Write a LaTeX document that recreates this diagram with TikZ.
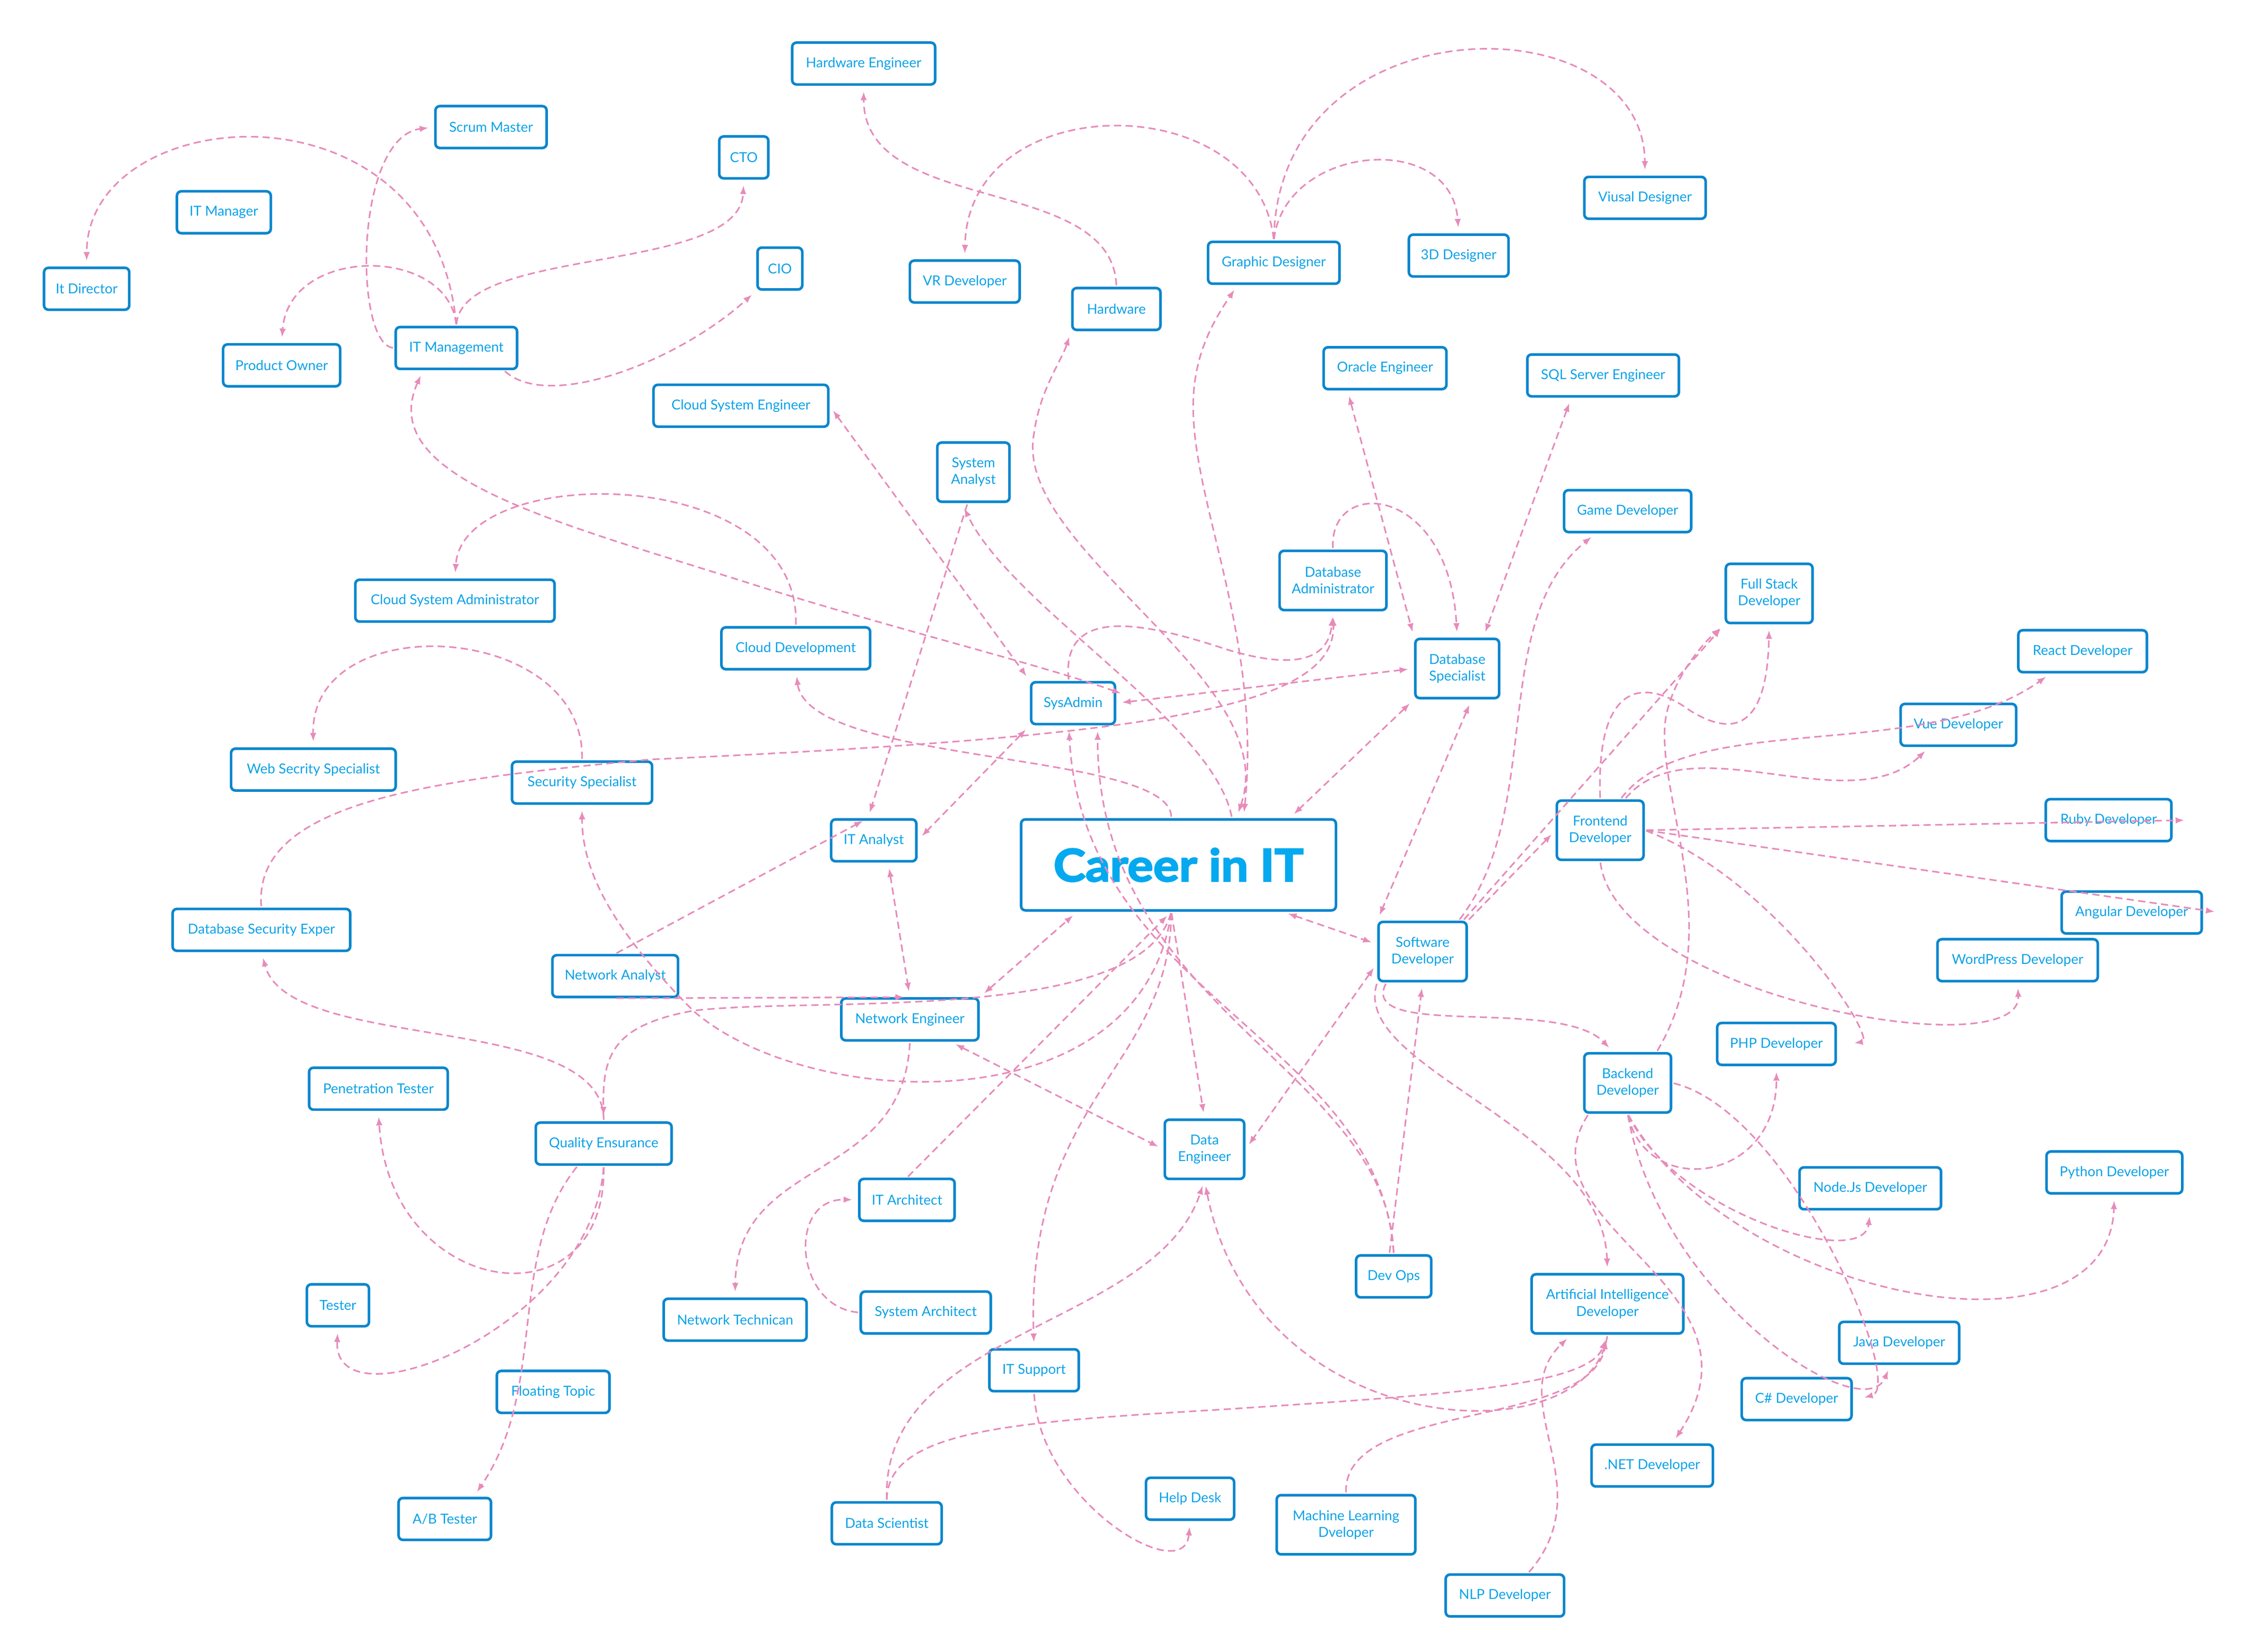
\documentclass[tikz,border=0pt]{standalone}
\usepackage{fontspec}
\setmainfont{Lato}
\newfontfamily\heavy{Lato}[FakeBold=3, FakeStretch=1.08]
\usetikzlibrary{arrows.meta}
\definecolor{boxblue}{HTML}{0A86CE}
\definecolor{txtblue}{HTML}{08A2E8}
\definecolor{careerblue}{HTML}{05A9EF}
\definecolor{linkpink}{HTML}{E78BBA}
\begin{document}
\begin{tikzpicture}[x=1pt, y=-1pt,
        box/.style={draw=boxblue, line width=1.8pt, rounded corners=3pt, text=txtblue,
            font=\fontsize{9.5}{11.5}\selectfont, minimum height=29pt, inner xsep=6pt, align=center},
        tall/.style={box, minimum height=41pt},
        link/.style={draw=linkpink, line width=1.1pt, dash pattern=on 5pt off 3pt,
            -{Latex[length=6pt,width=4.5pt]}, shorten >=4pt, shorten <=1pt},
        both/.style={link, {Latex[length=6pt,width=4.5pt]}-{Latex[length=6pt,width=4.5pt]}, shorten <=4pt}]
        \useasboundingbox[fill=white] (0,0) rectangle (1560,1144);
        \node [box, minimum width=99pt] (hweng) at (598,44) {Hardware Engineer};
        \node [box, minimum width=77pt] (scrum) at (340,88) {Scrum Master};
        \node [box, minimum width=34pt] (cto) at (515,109) {CTO};
        \node [box, minimum width=65pt] (itmgr) at (155,147) {IT Manager};
        \node [box, minimum width=59pt] (itdir) at (60,200) {It Director};
        \node [box, minimum width=31pt] (cio) at (540,186) {CIO};
        \node [box, minimum width=81pt] (powner) at (195,253) {Product Owner};
        \node [box, minimum width=84pt] (itm) at (316,241) {IT Management};
        \node [box, minimum width=76pt] (vr) at (668,195) {VR Developer};
        \node [box, minimum width=61pt] (hw) at (773,214) {Hardware};
        \node [box, minimum width=91pt] (gd) at (882,182) {Graphic Designer};
        \node [box, minimum width=69pt] (d3) at (1010,177) {3D Designer};
        \node [box, minimum width=84pt] (vis) at (1139,137) {Viusal Designer};
        \node [box, minimum width=85pt] (oracle) at (959,255) {Oracle Engineer};
        \node [box, minimum width=105pt] (sql) at (1110,260) {SQL Server Engineer};
        \node [box, minimum width=121pt] (cse) at (513,281) {Cloud System Engineer};
        \node [tall, minimum width=50pt] (sa) at (674,327) {System\\Analyst};
        \node [box, minimum width=88pt] (game) at (1127,354) {Game Developer};
        \node [box, minimum width=138pt] (csa) at (315,416) {Cloud System Administrator};
        \node [tall, minimum width=74pt] (dba) at (923,402) {Database\\Administrator};
        \node [tall, minimum width=60pt] (fs) at (1225,411) {Full Stack\\Developer};
        \node [box, minimum width=103pt] (cdev) at (551,449) {Cloud Development};
        \node [tall, minimum width=58pt] (dbs) at (1009,463) {Database\\Specialist};
        \node [box, minimum width=89pt] (react) at (1442,451) {React Developer};
        \node [box, minimum width=58pt] (sys) at (743,487) {SysAdmin};
        \node [box, minimum width=80pt] (vue) at (1356,502) {Vue Developer};
        \node [box, minimum width=114pt] (websec) at (217,533) {Web Secrity Specialist};
        \node [box, minimum width=97pt] (secsp) at (403,542) {Security Specialist};
        \node [box, minimum width=218pt, minimum height=63pt, text=careerblue, font=\heavy\bfseries\fontsize{31}{36}\selectfont] (career) at (816,599) {Career in IT};
        \node [box, minimum width=59pt] (itan) at (605,582) {IT Analyst};
        \node [tall, minimum width=60pt] (fe) at (1108,575) {Frontend\\Developer};
        \node [box, minimum width=87pt] (ruby) at (1460,568) {Ruby Developer};
        \node [box, minimum width=97pt] (angular) at (1476,632) {Angular Developer};
        \node [box, minimum width=123pt] (dbsec) at (181,644) {Database Security Exper};
        \node [tall, minimum width=61pt] (swd) at (985,659) {Software\\Developer};
        \node [box, minimum width=111pt] (wp) at (1397,665) {WordPress Developer};
        \node [box, minimum width=87pt] (nan) at (426,676) {Network Analyst};
        \node [box, minimum width=95pt] (neng) at (630,706) {Network Engineer};
        \node [box, minimum width=82pt] (php) at (1230,723) {PHP Developer};
        \node [tall, minimum width=60pt] (be) at (1127,750) {Backend\\Developer};
        \node [box, minimum width=96pt] (pen) at (262,754) {Penetration Tester};
        \node [box, minimum width=94pt] (qe) at (418,792) {Quality Ensurance};
        \node [tall, minimum width=55pt] (de) at (834,796) {Data\\Engineer};
        \node [box, minimum width=94pt] (py) at (1464,812) {Python Developer};
        \node [box, minimum width=98pt] (node) at (1295,823) {Node.Js Developer};
        \node [box, minimum width=66pt] (ita) at (628,831) {IT Architect};
        \node [box, minimum width=52pt] (devops) at (965,884) {Dev Ops};
        \node [tall, minimum width=105pt] (ai) at (1113,903) {Artificial Intelligence\\Developer};
        \node [box, minimum width=43pt] (tester) at (234,904) {Tester};
        \node [box, minimum width=90pt] (sysarch) at (641,909) {System Architect};
        \node [box, minimum width=99pt] (ntech) at (509,914) {Network Technican};
        \node [box, minimum width=83pt] (java) at (1315,930) {Java Developer};
        \node [box, minimum width=62pt] (itsup) at (716,949) {IT Support};
        \node [box, minimum width=78pt] (float) at (383,964) {Floating Topic};
        \node [box, minimum width=76pt] (csharp) at (1244,969) {C\# Developer};
        \node [box, minimum width=84pt] (net) at (1144,1015) {.NET Developer};
        \node [box, minimum width=61pt] (help) at (824,1038) {Help Desk};
        \node [tall, minimum width=96pt] (ml) at (932,1056) {Machine Learning\\Dveloper};
        \node [box, minimum width=64pt] (ab) at (308,1052) {A/B Tester};
        \node [box, minimum width=76pt] (ds) at (614,1055) {Data Scientist};
        \node [box, minimum width=82pt] (nlp) at (1042,1105) {NLP Developer};
        \draw [link] (itm.north) .. controls (300,50) and (60,70) .. (itdir.north);
        \draw [link] (itm.west) .. controls (245,238) and (245,95) .. (scrum.west);
        \draw [link] (itm.north) .. controls (310,170) and (200,170) .. (powner.north);
        \draw [link] (itm.north) .. controls (320,170) and (512,190) .. (cto.south);
        \draw [link] ([xshift=-10pt]itm.south east) .. controls (380,285) and (470,250) .. (cio.south west);
        \draw [both] ([xshift=-23pt]itm.south) .. controls (260,330) and (380,360) .. (519,404) .. controls (620,436) and (720,460) .. ([shift={(7pt,-10pt)}]sys.north east);
        \draw [both] (cse.east) -- (sys.north west);
        \draw [link] (hw.north) .. controls (770,120) and (598,150) .. (hweng.south);
        \draw [link] (gd.north) .. controls (870,60) and (670,60) .. (vr.north);
        \draw [link] (gd.north) .. controls (885,0) and (1138,0) .. (vis.north);
        \draw [link] (gd.north) .. controls (890,100) and (1005,90) .. (d3.north);
        \draw [both] ([xshift=-26pt]oracle.south) -- (dbs.north west);
        \draw [both] ([xshift=-22pt]sql.south) -- ([xshift=18pt]dbs.north);
        \draw [link] (dba.north) .. controls (920,330) and (1003,335) .. (dbs.north);
        \draw [link] (dbsec.north) .. controls (175,555) and (300,540) .. (450,526) .. controls (800,510) and (925,490) .. (dba.south);
        \draw [link] ([xshift=-3pt]sys.north) .. controls (735,420) and (790,430) .. (850,450) .. controls (900,465) and (920,455) .. (dba.south);
        \draw [both] (sys.east) -- (dbs.west);
        \draw [link] ([xshift=25pt]swd.north) .. controls (1070,560) and (1030,430) .. ([xshift=-22pt]game.south);
        \draw [link] ([xshift=28pt]swd.north) -- (fs.south west);
        \draw [link] (swd.north east) -- (fe.west);
        \draw [link] ([xshift=20pt]be.north) .. controls (1200,640) and (1140,540) .. (1155,490) .. controls (1162,465) and (1180,445) .. (fs.south west);
        \draw [link] (fe.north) .. controls (1105,470) and (1140,470) .. (1170,492) .. controls (1215,520) and (1224,480) .. (fs.south);
        \draw [link] ([xshift=17pt]fe.north) .. controls (1170,500) and (1280,570) .. ([xshift=-20pt]vue.south);
        \draw [link] ([xshift=14pt]fe.north) .. controls (1170,490) and (1330,530) .. ([xshift=-22pt]react.south);
        \draw [link] (fe.east) -- ([xshift=12pt]ruby.east);
        \draw [link] (fe.east) -- ([xshift=12pt]angular.east);
        \draw [link] (fe.east) .. controls (1230,610) and (1300,720) .. ([xshift=8pt]php.east);
        \draw [link] (fe.south) .. controls (1120,690) and (1400,740) .. (wp.south);
        \draw [link] ([xshift=-25pt]swd.south) .. controls (940,720) and (1080,690) .. ([xshift=-10pt]be.north);
        \draw [link] (be.south) .. controls (1160,840) and (1290,880) .. (node.south);
        \draw [link] (be.south) .. controls (1140,830) and (1230,820) .. (php.south);
        \draw [link] (be.south) .. controls (1200,900) and (1460,950) .. (py.south);
        \draw [link] (be.south) .. controls (1150,900) and (1290,990) .. ([xshift=-6pt]java.south);
        \draw [link] (be.east) .. controls (1240,770) and (1320,960) .. ([xshift=4pt]csharp.east);
        \draw [link] ([xshift=-27pt]be.south) .. controls (1050,850) and (1230,890) .. ([xshift=14pt]net.north);
        \draw [link] (swd.south west) .. controls (935,740) and (1110,780) .. (ai.north);
        \draw [link] (ds.north) .. controls (615,990) and (700,985) .. (849,976) .. controls (1000,966) and (1100,960) .. (ai.south);
        \draw [link] (ds.north) .. controls (610,920) and (800,920) .. (de.south);
        \draw [link] (ml.north) .. controls (930,970) and (1100,990) .. (ai.south);
        \draw [link] (ai.south) .. controls (1100,1010) and (870,1000) .. (de.south);
        \draw [link] ([xshift=16pt]nlp.north) .. controls (1110,1030) and (1040,970) .. ([xshift=-25pt]ai.south);
        \draw [link] (cdev.north) .. controls (555,320) and (320,320) .. (csa.north);
        \draw [link] (secsp.north) .. controls (405,430) and (215,420) .. (websec.north);
        \draw [link] ([xshift=-5pt]career.south) .. controls (790,780) and (560,770) .. (480,700) .. controls (420,640) and (403,600) .. (secsp.south);
        \draw [link] ([xshift=-4pt]sa.south) -- ([xshift=-4pt]itan.north);
        \draw [link] (nan.north) -- ([xshift=-4pt]itan.north);
        \draw [both] (sys.south west) -- (itan.east);
        \draw [both] ([xshift=10pt]itan.south) -- (neng.north);
        \draw [link] (nan.south) -- (neng.north);
        \draw [both] (neng.north east) -- ([xshift=-70pt]career.south);
        \draw [link] ([xshift=-5pt]career.south) .. controls (790,710) and (560,690) .. (480,700) .. controls (425,710) and (417,730) .. (qe.north);
        \draw [link] (qe.north) .. controls (418,700) and (200,730) .. (dbsec.south);
        \draw [link] (qe.south) .. controls (420,920) and (270,900) .. (pen.south);
        \draw [link] (qe.south) .. controls (410,920) and (230,990) .. (tester.south);
        \draw [link] ([xshift=-18pt]qe.south) .. controls (350,870) and (380,960) .. ([xshift=20pt]ab.north);
        \draw [link] (neng.south) .. controls (625,820) and (510,800) .. (ntech.north);
        \draw [both] ([xshift=28pt]neng.south) -- (de.west);
        \draw [link] (ita.north) -- ([xshift=-5pt]career.south);
        \draw [link] (sysarch.west) .. controls (550,905) and (545,830) .. (ita.west);
        \draw [link] ([xshift=-5pt]career.south) .. controls (810,740) and (710,760) .. (itsup.north);
        \draw [link] (itsup.south) .. controls (720,1040) and (820,1100) .. (help.south);
        \draw [link] ([xshift=-5pt]career.south) -- (de.north);
        \draw [both] ([yshift=-8pt]swd.west) -- (de.east);
        \draw [link] ([xshift=-3pt]devops.north) -- (swd.south);
        \draw [link] (devops.north) .. controls (955,720) and (750,690) .. ([xshift=-3pt]sys.south);
        \draw [link] (devops.north) .. controls (960,740) and (760,700) .. ([xshift=17pt]sys.south);
        \draw [both] ([xshift=72pt]career.south) -- ([yshift=5pt]swd.west);
        \draw [both] (dbs.south west) -- ([xshift=77pt]career.north);
        \draw [both] ([xshift=10pt]dbs.south) -- (swd.north west);
        \draw [both] ([xshift=40pt]career.north) .. controls (890,470) and (700,380) .. (716,300) .. controls (720,270) and (735,250) .. (hw.south west);
        \draw [both] ([xshift=45pt]career.north) .. controls (875,430) and (815,330) .. (828,260) .. controls (832,235) and (845,215) .. ([xshift=-25pt]gd.south);
        \draw [link] ([xshift=37pt]career.north) .. controls (840,500) and (700,420) .. ([xshift=-8pt]sa.south);
        \draw [link] ([xshift=-5pt]career.north) .. controls (810,520) and (560,530) .. (cdev.south);
    \end{tikzpicture}
\end{document}
